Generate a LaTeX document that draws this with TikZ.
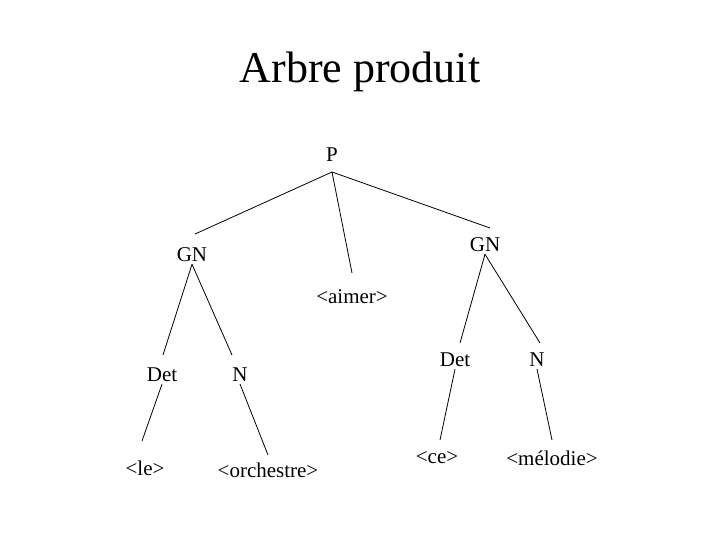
\documentclass[tikz,border=0pt]{standalone}
\usepackage{fontspec}
\setmainfont{Liberation Serif}
\begin{document}
\begin{tikzpicture}[x=1pt,y=-1pt,
  lab/.style={font=\fontsize{21}{24}\selectfont, inner sep=2pt},
  edge/.style={draw=black, line width=0.8pt}]
\useasboundingbox (0,0) rectangle (720,540);
\node[font=\fontsize{44}{50}\selectfont] (t) at (360,72) {Arbre produit};
\node[lab] (p) at (332,155) {P};
\node[lab] (gn1) at (192,255) {GN};
\node[lab] (gn2) at (485,245) {GN};
\node[lab] (aim) at (352,297) {<aimer>};
\node[lab] (det1) at (162,375) {Det};
\node[lab] (n1) at (240,375) {N};
\node[lab] (det2) at (455,360) {Det};
\node[lab] (n2) at (537,360) {N};
\node[lab] (le) at (145,468) {<le>};
\node[lab] (orc) at (268,470) {<orchestre>};
\node[lab] (ce) at (437,458) {<ce>};
\node[lab] (mel) at (552,458) {<mélodie>};
\coordinate (ps) at (332,172);
\draw[edge] (ps) -- (195,234);
\draw[edge] (ps) -- (352,273);
\draw[edge] (ps) -- (490,228);
\draw[edge] (gn1.south) -- (163,355);
\draw[edge] (gn1.south) -- (232,355);
\draw[edge] (gn2.south) -- (460,343);
\draw[edge] (gn2.south) -- (540,343);
\draw[edge] (det1.south) -- (142,441);
\draw[edge] (n1.south) -- (268,455);
\draw[edge] (det2.south) -- (440,440);
\draw[edge] (n2.south) -- (552,440);
\end{tikzpicture}
\end{document}
